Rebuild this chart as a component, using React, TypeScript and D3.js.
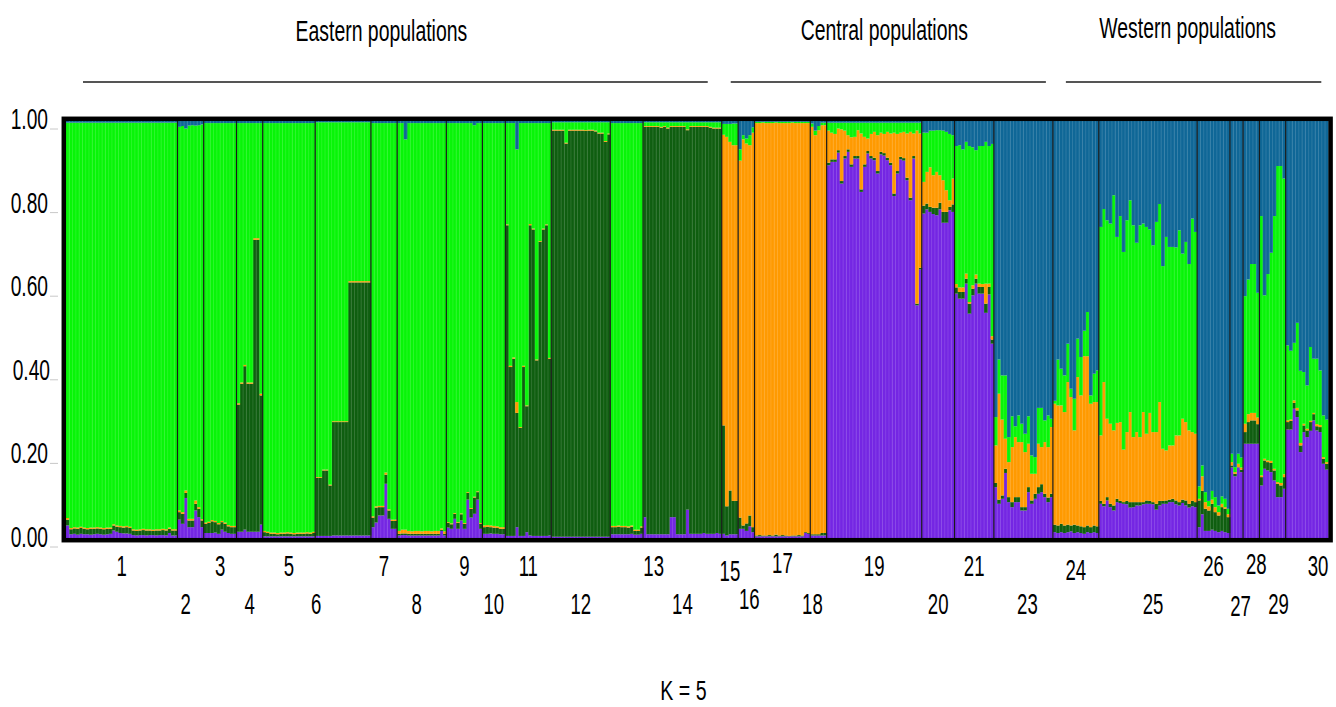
import React from "react";
import * as d3 from "d3";

// Each individual: cumulative upper bounds (%) of the clusters stacked bottom -> top
// [purple, dark green, orange, light green]; blue fills the rest up to 100.
const pop1 = [
  [3.0, 4.4, 4.8, 99.6],
  [0.9, 2.1, 2.4, 99.6], [1.0, 2.3, 2.6, 99.6], [0.8, 2.2, 2.5, 99.6], [1.0, 2.4, 2.7, 99.6],
  [0.9, 2.2, 2.5, 99.6], [0.9, 2.1, 2.4, 99.6], [0.8, 2.2, 2.5, 99.6], [0.9, 2.2, 2.5, 99.6],
  [1.0, 2.3, 2.6, 99.6], [0.9, 2.2, 2.5, 99.6], [0.8, 2.1, 2.4, 99.6], [0.9, 2.2, 2.5, 99.6],
  [1.0, 2.2, 2.5, 99.6],
  [1.8, 3.0, 3.3, 99.6], [1.5, 2.7, 3.0, 99.6], [1.2, 2.6, 2.9, 99.6], [1.1, 2.5, 2.8, 99.6],
  [1.1, 2.6, 2.9, 99.6], [1.0, 2.4, 2.7, 99.6],
  [0.7, 1.8, 2.1, 99.6], [0.6, 1.7, 2.0, 99.6], [0.7, 1.8, 2.1, 99.6], [0.7, 1.9, 2.2, 99.6],
  [0.6, 1.8, 2.1, 99.6], [0.7, 1.8, 2.1, 99.6], [0.7, 1.7, 2.0, 99.6], [0.6, 1.8, 2.1, 99.6],
  [0.7, 1.8, 2.1, 99.6], [0.7, 1.9, 2.2, 99.6], [0.6, 1.8, 2.1, 99.6],
  [1.2, 2.2, 2.5, 99.6], [0.6, 1.8, 2.1, 99.6], [0.6, 1.8, 2.1, 99.6],
];
const pop2 = [
  [4.4, 6.2, 6.6, 98.6], [3.4, 5.8, 6.2, 98.8], [9.6, 10.8, 11.4, 98.2], [2.6, 4.2, 4.6, 98.9],
  [2.6, 4.2, 4.6, 99.0], [6.6, 8.2, 9.0, 98.9], [5.0, 7.0, 7.4, 99.0], [2.6, 4.2, 4.5, 99.2],
];
const pop3 = [
  [1.2, 3.4, 3.7, 99.5], [1.2, 3.6, 3.9, 99.5], [1.2, 4.0, 4.3, 99.5], [1.3, 3.8, 4.1, 99.5],
  [1.0, 3.3, 3.6, 99.5], [2.0, 3.8, 4.1, 99.5], [1.5, 3.4, 3.7, 99.5], [1.2, 2.8, 3.1, 99.5],
  [1.0, 2.6, 2.9, 99.5], [1.0, 2.6, 2.9, 99.5],
];
const pop4 = [
  [1.5, 32.0, 32.3, 99.5], [1.5, 37.0, 37.3, 99.5], [2.0, 41.2, 41.5, 99.5], [1.5, 37.0, 37.3, 99.5],
  [1.5, 37.0, 37.3, 99.5], [1.5, 71.5, 71.9, 99.5], [1.5, 71.5, 71.9, 99.5], [3.2, 34.2, 34.6, 99.5],
];
const pop5 = [
  [0.4, 1.4, 1.7, 99.5], [0.4, 1.2, 1.5, 99.5], [0.4, 1.0, 1.3, 99.5], [0.4, 1.0, 1.3, 99.5],
  [0.4, 0.9, 1.2, 99.5], [0.4, 1.0, 1.3, 99.5], [0.4, 1.0, 1.3, 99.5], [0.4, 1.1, 1.4, 99.5],
  [0.4, 1.0, 1.3, 99.5], [0.4, 0.9, 1.2, 99.5], [0.4, 1.0, 1.3, 99.5], [0.4, 1.0, 1.3, 99.5],
  [0.4, 1.0, 1.3, 99.5], [0.4, 1.1, 1.4, 99.5], [0.4, 1.0, 1.3, 99.5], [0.4, 1.2, 1.5, 99.5],
];
const pop6 = [
  [0.5, 14.4, 14.6, 99.7], [0.5, 14.4, 14.6, 99.7], [0.5, 16.2, 16.4, 99.7], [0.5, 16.2, 16.4, 99.7],
  [0.5, 12.6, 12.8, 99.7], [0.6, 27.8, 28.0, 99.7], [0.6, 27.8, 28.0, 99.7], [0.6, 27.8, 28.0, 99.7],
  [0.6, 27.8, 28.0, 99.7], [0.6, 27.8, 28.0, 99.7], [0.6, 61.3, 61.6, 99.7], [0.6, 61.3, 61.6, 99.7],
  [0.6, 61.3, 61.6, 99.7], [0.6, 61.3, 61.6, 99.7], [0.6, 61.3, 61.6, 99.7], [0.6, 61.3, 61.6, 99.7],
  [0.6, 61.3, 61.6, 99.7],
];
const pop7 = [
  [2.6, 4.9, 5.2, 99.5], [3.7, 7.3, 7.6, 99.5], [5.4, 7.4, 7.7, 99.5], [5.4, 7.4, 7.7, 99.5],
  [13.0, 15.2, 15.7, 99.5], [4.6, 6.6, 6.9, 99.5], [2.2, 4.1, 4.4, 99.5], [2.2, 4.1, 4.4, 99.5],
];
const pop8 = [
  [0.6, 1.0, 1.7, 99.5], [0.7, 1.1, 2.0, 99.5], [0.7, 1.1, 2.0, 95.6], [0.6, 1.0, 1.7, 99.5],
  [0.6, 1.0, 1.6, 99.5], [0.6, 1.0, 1.7, 99.5], [0.6, 1.0, 1.7, 99.5], [0.6, 1.0, 1.6, 99.5],
  [0.6, 1.0, 1.7, 99.5], [0.6, 1.0, 1.7, 99.5], [0.6, 1.0, 1.6, 99.5], [0.6, 1.0, 1.7, 99.5],
  [0.6, 1.0, 1.7, 99.5], [1.7, 2.0, 2.3, 99.5], [0.6, 1.0, 1.6, 99.5],
];
const pop9 = [
  [2.5, 3.6, 3.8, 99.5], [2.2, 3.3, 3.5, 99.5], [4.6, 5.8, 6.0, 99.5], [2.2, 3.6, 3.8, 99.5],
  [4.2, 5.7, 5.9, 99.5], [2.2, 3.4, 3.6, 99.5], [9.2, 10.8, 11.0, 99.5], [4.9, 7.0, 7.2, 99.5],
  [5.8, 9.7, 9.9, 99.0], [9.2, 11.0, 11.2, 99.5], [2.2, 3.4, 3.6, 99.5],
];
const pop10 = [
  [1.0, 2.6, 3.0, 99.5], [1.0, 2.7, 3.1, 99.5], [1.1, 2.6, 3.0, 99.5], [1.0, 2.5, 2.9, 99.5],
  [1.0, 2.4, 2.8, 99.5], [0.9, 2.2, 2.6, 99.5], [0.9, 2.2, 2.6, 99.5],
];
const pop11 = [
  [0.5, 75.0, 75.2, 99.5], [0.5, 41.0, 41.3, 99.5], [0.5, 43.0, 43.3, 99.5], [2.6, 30.0, 32.6, 93.2],
  [0.5, 26.4, 26.6, 99.5], [0.5, 41.0, 41.3, 99.5], [1.4, 31.6, 31.8, 99.5], [0.6, 75.0, 75.3, 99.5],
  [0.5, 74.0, 74.2, 99.5], [0.5, 42.6, 42.8, 99.5], [0.5, 71.0, 71.2, 99.5], [0.5, 74.0, 74.2, 99.5],
  [0.5, 75.0, 75.2, 99.5], [0.6, 43.0, 43.2, 99.5],
];
const pop12 = [
  [0.3, 97.7, 97.9, 99.7], [0.3, 97.7, 97.9, 99.7], [0.3, 97.7, 97.9, 99.7], [0.3, 97.7, 97.9, 99.7],
  [0.3, 94.6, 94.8, 99.7], [0.3, 97.7, 97.9, 99.7], [0.3, 97.7, 97.9, 99.7], [0.3, 97.7, 97.9, 99.7],
  [0.3, 97.7, 97.9, 99.7], [0.3, 97.7, 97.9, 99.7], [0.3, 97.6, 97.8, 99.7], [0.3, 97.7, 97.9, 99.7],
  [0.3, 97.7, 97.9, 99.7], [0.3, 97.5, 97.7, 99.7], [0.3, 97.0, 97.2, 99.7], [0.3, 97.0, 97.2, 99.7],
  [0.3, 95.0, 95.2, 99.7], [0.3, 96.8, 97.0, 99.7],
];
const pop13 = [
  [0.9, 2.6, 2.9, 99.5], [0.9, 2.6, 2.9, 99.5], [0.9, 2.7, 3.0, 99.5], [0.9, 2.6, 2.9, 99.5],
  [0.9, 2.6, 2.9, 99.5], [0.9, 2.5, 2.8, 99.5], [1.0, 2.7, 3.0, 99.5], [0.8, 1.7, 2.0, 99.5],
  [0.8, 1.7, 2.0, 99.5], [1.0, 2.5, 2.8, 99.5],
];
const pop14 = [
  [5.0, 98.6, 98.8, 99.7], [0.9, 98.6, 98.8, 99.7], [0.9, 98.6, 98.8, 99.7], [0.9, 98.6, 98.8, 99.7],
  [0.9, 98.6, 98.8, 99.7], [0.9, 98.4, 98.6, 99.7], [0.9, 98.6, 98.8, 99.7], [0.9, 98.2, 98.4, 99.7],
  [5.0, 98.6, 98.8, 99.7], [5.0, 98.6, 98.8, 99.7], [0.9, 98.6, 98.8, 99.7], [0.9, 98.6, 98.8, 99.7],
  [0.9, 98.6, 98.8, 99.7], [6.8, 97.8, 98.0, 99.7], [1.0, 98.6, 98.8, 99.7], [1.0, 98.6, 98.8, 99.7],
  [1.0, 98.6, 98.8, 99.7], [1.0, 98.6, 98.8, 99.7], [1.2, 98.6, 98.8, 99.7], [1.0, 98.6, 98.8, 99.7],
  [1.0, 98.4, 98.6, 99.7], [1.0, 98.2, 98.4, 99.7], [1.2, 98.2, 98.4, 99.7], [1.0, 98.2, 98.4, 99.7],
];
const pop15 = [
  [1.0, 27.0, 96.7, 99.3], [0.6, 7.6, 96.2, 99.3], [0.9, 11.4, 95.0, 99.3], [0.9, 8.9, 94.2, 99.4],
  [0.9, 8.9, 94.2, 99.4],
];
const pop16 = [
  [2.2, 4.9, 90.5, 93.2], [2.2, 3.0, 95.6, 96.6], [1.7, 3.5, 94.6, 95.8], [2.8, 5.4, 94.2, 96.6],
  [1.4, 2.6, 97.2, 98.5],
];
const pop17 = [
  [0.4, 0.6, 99.5, 99.8], [0.4, 0.7, 99.5, 99.8], [0.4, 0.6, 99.6, 99.8], [0.4, 0.6, 99.5, 99.8],
  [0.4, 0.7, 99.5, 99.8], [0.4, 0.6, 99.5, 99.8], [0.4, 0.8, 99.6, 99.8], [0.4, 0.6, 99.5, 99.8],
  [0.4, 0.7, 99.5, 99.8], [0.4, 0.6, 99.5, 99.8], [0.4, 0.5, 99.5, 99.8], [0.4, 0.6, 99.6, 99.8],
  [0.4, 0.6, 99.5, 99.8], [0.4, 0.7, 99.5, 99.8], [0.4, 0.6, 99.5, 99.8], [1.2, 1.4, 99.5, 99.8],
  [1.0, 1.2, 99.5, 99.8],
];
const pop18 = [
  [0.6, 0.9, 98.6, 99.4], [0.6, 0.9, 96.6, 97.7], [0.6, 0.9, 97.8, 98.8], [0.6, 1.2, 99.0, 99.6],
  [0.6, 1.2, 99.0, 99.6],
];
const pop19 = [
  [89.4, 90.0, 97.7, 99.6], [90.2, 90.8, 97.2, 99.6], [90.2, 90.8, 96.9, 99.6], [92.4, 93.0, 98.2, 99.6],
  [85.0, 85.6, 98.0, 99.6], [91.0, 91.6, 97.7, 99.6], [92.6, 93.2, 96.6, 99.6], [89.0, 89.6, 96.1, 99.6],
  [91.0, 91.6, 96.2, 99.6], [91.0, 91.6, 97.8, 99.6], [83.0, 83.6, 97.0, 99.6], [89.0, 89.6, 96.2, 99.6],
  [92.2, 92.8, 95.8, 99.6], [91.0, 91.6, 96.9, 99.6], [90.6, 91.2, 97.4, 99.6], [87.4, 88.0, 96.6, 99.6],
  [92.0, 92.6, 97.2, 99.6], [91.7, 92.3, 96.9, 99.6], [90.6, 91.2, 97.4, 99.6], [89.4, 90.0, 97.0, 99.6],
  [82.0, 82.6, 97.2, 99.6], [87.4, 88.0, 96.9, 99.6], [90.8, 91.4, 97.2, 99.6], [90.5, 91.1, 97.4, 99.6],
  [85.8, 86.4, 97.0, 99.6], [81.0, 81.6, 97.4, 99.6], [91.0, 91.6, 97.0, 99.6], [55.8, 56.2, 97.7, 99.6],
  [64.4, 64.8, 97.0, 99.6],
];
const pop20 = [
  [77.8, 79.7, 85.4, 97.2], [78.8, 80.2, 87.8, 97.2], [78.2, 79.4, 88.9, 97.7], [77.7, 79.2, 87.0, 97.7],
  [77.4, 79.2, 87.8, 97.8], [78.8, 80.4, 87.0, 97.8], [75.6, 78.2, 85.8, 97.7], [75.6, 78.2, 83.4, 97.4],
  [78.6, 79.4, 81.0, 96.9], [78.2, 80.0, 86.2, 96.6],
];
const pop21 = [
  [58.6, 60.1, 60.9, 94.0], [57.4, 59.0, 60.1, 94.2], [57.4, 59.0, 60.1, 93.2], [61.0, 62.2, 63.4, 95.0],
  [53.8, 56.2, 56.6, 94.0], [58.2, 59.8, 60.6, 93.7], [61.0, 62.2, 63.2, 93.0], [58.6, 60.2, 61.0, 94.0],
  [58.6, 60.2, 60.9, 94.0], [54.0, 56.2, 61.0, 95.0], [58.4, 60.2, 61.0, 94.0], [46.6, 47.6, 48.4, 94.5],
];
const pop23 = [
  [12.2, 13.2, 22.2, 29.0], [8.2, 9.2, 34.6, 42.8], [9.4, 10.2, 28.4, 39.0], [15.6, 16.6, 23.8, 39.0],
  [8.6, 9.8, 18.2, 24.2], [7.4, 8.6, 21.8, 29.2], [8.6, 9.8, 24.2, 26.8], [8.6, 9.8, 23.0, 29.4],
  [6.6, 7.4, 23.0, 27.4], [6.6, 7.4, 20.6, 25.0], [11.0, 12.2, 22.6, 29.2], [8.2, 9.0, 15.4, 19.8],
  [9.4, 10.6, 15.4, 19.4], [10.6, 12.2, 22.6, 31.2], [11.0, 12.9, 21.8, 31.2], [9.8, 10.6, 23.0, 28.2],
  [8.6, 9.7, 21.8, 29.4], [9.8, 10.6, 26.6, 28.6],
];
const pop24 = [
  [1.4, 3.2, 32.2, 32.9], [1.2, 3.0, 31.8, 42.8], [1.4, 3.4, 31.8, 40.6], [1.2, 3.0, 30.2, 39.0],
  [1.4, 3.2, 37.4, 46.6], [1.6, 3.0, 33.8, 35.8], [1.2, 3.2, 25.8, 33.4], [1.4, 3.0, 38.6, 47.8],
  [1.2, 2.8, 34.2, 43.4], [1.0, 2.6, 43.6, 49.7], [1.4, 3.0, 43.6, 54.2], [1.2, 2.6, 32.2, 34.2],
  [1.4, 3.0, 32.6, 39.4], [1.2, 2.8, 32.6, 40.2],
];
const pop25 = [
  [8.2, 8.9, 24.6, 74.6], [7.6, 8.2, 37.4, 78.9], [9.0, 9.8, 28.6, 76.2], [7.4, 8.2, 27.4, 75.4],
  [6.6, 7.8, 25.8, 82.2], [8.6, 9.4, 27.6, 72.2], [8.4, 8.9, 27.8, 77.2], [8.2, 8.6, 21.2, 68.6],
  [8.1, 8.9, 25.4, 76.2], [7.3, 8.6, 30.2, 81.0], [7.4, 8.6, 24.2, 75.0], [7.8, 8.6, 25.4, 70.8],
  [7.8, 8.6, 24.2, 75.0], [8.1, 8.6, 30.2, 75.4], [8.2, 9.0, 25.0, 74.6], [8.2, 8.9, 30.0, 74.0],
  [8.1, 8.6, 25.4, 70.2], [6.8, 8.2, 25.4, 75.8], [7.8, 8.9, 32.6, 80.1], [8.2, 8.9, 21.4, 65.2],
  [8.2, 9.0, 21.0, 72.2], [8.6, 9.2, 22.2, 69.8], [8.6, 9.4, 22.2, 69.8], [8.1, 9.0, 24.6, 69.7],
  [7.8, 8.6, 24.6, 73.8], [8.4, 9.2, 28.6, 68.2], [7.8, 9.0, 27.8, 71.0], [7.3, 8.2, 25.8, 65.7],
  [7.6, 8.9, 25.4, 76.6], [7.4, 8.6, 25.0, 73.4],
];
const pop26 = [
  [2.6, 9.0, 9.4, 12.4], [5.7, 11.3, 14.8, 17.4], [1.7, 7.0, 8.6, 11.0], [1.7, 6.6, 7.6, 8.9],
  [2.0, 8.2, 9.2, 11.3], [1.7, 6.2, 7.4, 9.8], [1.4, 5.4, 6.2, 7.8], [1.7, 7.4, 8.2, 10.0],
  [1.4, 7.0, 7.4, 9.4], [1.2, 5.0, 5.7, 7.0],
];
const pop27 = [
  [16.9, 17.4, 18.2, 20.2], [14.8, 15.4, 15.8, 17.0], [16.9, 17.0, 17.8, 20.2], [15.8, 16.4, 16.9, 19.3],
];
const pop28 = [
  [22.6, 25.4, 27.4, 58.0], [22.6, 27.8, 29.7, 62.0], [22.6, 28.2, 30.0, 65.7], [22.6, 28.2, 30.0, 65.7],
  [22.6, 27.3, 28.9, 58.8],
];
const pop29 = [
  [12.6, 14.6, 15.0, 77.2], [16.6, 18.6, 19.0, 58.2], [16.2, 18.2, 18.6, 63.3], [15.8, 18.0, 18.5, 68.4],
  [13.8, 16.2, 16.6, 77.2], [9.8, 13.0, 13.4, 89.2], [9.8, 12.6, 13.2, 89.2], [11.8, 14.6, 15.3, 86.2],
];
const pop30 = [
  [26.0, 27.8, 28.2, 46.2], [26.0, 28.1, 28.4, 44.9], [31.0, 32.4, 33.0, 46.8], [29.0, 30.6, 31.2, 51.6],
  [20.6, 22.2, 22.8, 40.1], [25.4, 27.0, 27.4, 39.8], [24.2, 25.8, 26.2, 36.6], [25.7, 27.8, 28.1, 45.8],
  [28.2, 29.7, 30.0, 43.0], [25.8, 26.8, 27.3, 43.0], [25.4, 26.6, 27.1, 40.2], [17.8, 19.0, 19.4, 29.4],
  [16.4, 17.8, 18.2, 28.4],
];

const popLabels = [
  "1", "2", "3", "4", "5", "6", "7", "8", "9", "10", "11", "12", "13", "14", "15",
  "16", "17", "18", "19", "20", "21", "23", "24", "25", "26", "27", "28", "29", "30",
];
const popRows = [
  pop1, pop2, pop3, pop4, pop5, pop6, pop7, pop8, pop9, pop10, pop11, pop12, pop13, pop14, pop15,
  pop16, pop17, pop18, pop19, pop20, pop21, pop23, pop24, pop25, pop26, pop27, pop28, pop29, pop30,
];
// small label shifts (px) where the original label sits off the population centre
const labelNudge: Record<string, [number, number]> = {
  "2": [-5, 0], "6": [-27, 0], "8": [-5, 0], "13": [27, 0], "15": [0, 5], "16": [3, -5],
  "17": [0, -3], "18": [-6, 0], "23": [4, 0], "24": [0, 4], "25": [5, 0], "27": [4, 2],
  "28": [5, -2], "29": [6, 0], "30": [11, 0],
};

const groupNames = ["Eastern populations", "Central populations", "Western populations"];
const groupSpans = [["1", "14"], ["15", "23"], ["24", "30"]];
const groupPad = [[17, 14, -14], [9, 7, -4], [13, 7, -6]]; // left inset, right inset, title shift

const yTicks = [0, 0.2, 0.4, 0.6, 0.8, 1.0];
const clusterKeys = ["purple", "darkGreen", "orange", "green", "blue"];
const clusterColors = ["#7426e3", "#0f5e10", "#ff9a00", "#08f508", "#0f6797"];

const FONT = "'Liberation Sans', Arial, sans-serif";

export default function App() {
  const W = 1336;
  const H = 707;
  const left = 66, right = 1328.3, top = 121, bottom = 538;

  const data: any[] = [];
  popRows.forEach((rows, pi) => {
    rows.forEach((c) => {
      const [a, b, o, g] = c;
      data.push({
        id: data.length, pop: pi,
        purple: a, darkGreen: b - a, orange: o - b, green: g - o, blue: 100 - g,
      });
    });
  });

  const series = d3.stack().keys(clusterKeys)(data);
  const x = d3.scaleBand<number>().domain(data.map((d) => d.id)).range([left, right]).padding(0);
  const y = d3.scaleLinear().domain([0, 100]).range([bottom, top]);
  const tickY = d3.scaleLinear().domain([0, 1]).range([547, 129]);
  const bw = x.bandwidth();

  const extents = popLabels.map((lab, pi) => {
    const ids = data.filter((d) => d.pop === pi).map((d) => d.id);
    return { lab, x0: x(ids[0])!, x1: x(ids[ids.length - 1])! + bw };
  });
  const extOf = (lab: string) => extents.find((e) => e.lab === lab)!;

  const narrow = (px: number, py: number, s = 0.62) => `translate(${px},${py}) scale(${s},1)`;

  return (
    <svg width={W} height={H} style={{ position: "absolute", left: 0, top: 0, background: "#fff" }}>
      {/* group headers */}
      {groupNames.map((name, i) => {
        const x0 = extOf(groupSpans[i][0]).x0 + groupPad[i][0];
        const x1 = extOf(groupSpans[i][1]).x1 - groupPad[i][1];
        const cx = (x0 + x1) / 2 + groupPad[i][2];
        return (
          <g key={name}>
            <text transform={narrow(cx, 41 - i * 1.5, 0.67)} textAnchor="middle"
              fontFamily={FONT} fontSize={29} fill="#000">{name}</text>
            <line x1={x0} x2={x1} y1={82} y2={82} stroke="#555" strokeWidth={2} />
          </g>
        );
      })}

      {/* y axis */}
      {yTicks.map((t) => (
        <g key={t}>
          <line x1={50} x2={58} y1={tickY(t)} y2={tickY(t)} stroke="#c8c8c8" strokeWidth={1} />
          <text transform={narrow(t === 0.4 ? 50 : 48, tickY(t), 0.64)} textAnchor="end" fontFamily={FONT}
            fontSize={30} fill="#000">{d3.format(".2f")(t)}</text>
        </g>
      ))}

      {/* stacked bars */}
      {series.map((s, k) => (
        <g key={s.key} fill={clusterColors[k]}>
          {s.map((d: any, i: number) => {
            const h = y(d[0]) - y(d[1]);
            if (h <= 0) return null;
            return <rect key={i} x={x(data[i].id)!} y={y(d[1])} width={bw + 0.4} height={h} />;
          })}
        </g>
      ))}

      {/* faint individual separators */}
      <g stroke="#ffffff" strokeOpacity={0.18} strokeWidth={0.7}>
        {data.slice(1).map((d) => (
          <line key={d.id} x1={x(d.id)!} x2={x(d.id)!} y1={top} y2={bottom} />
        ))}
      </g>

      {/* population separators */}
      <g stroke="#1a1a1a" strokeWidth={1.2}>
        {extents.slice(1).map((e) => (
          <line key={e.lab} x1={e.x0} x2={e.x0} y1={top} y2={bottom} />
        ))}
      </g>

      {/* frame */}
      <rect x={63.8} y={118.8} width={1266.8} height={421.4} fill="none" stroke="#000" strokeWidth={4.5} />

      {/* population labels */}
      {extents.map((e, i) => {
        const nudge = labelNudge[e.lab] || [0, 0];
        const cx = (e.x0 + e.x1) / 2 + nudge[0];
        const cy = (i % 2 === 0 ? 576 : 614) + nudge[1];
        return (
          <text key={e.lab} transform={narrow(cx, cy)} textAnchor="middle"
            fontFamily={FONT} fontSize={30} fill="#000">{e.lab}</text>
        );
      })}

      <text transform={narrow(683.5, 700, 0.7)} textAnchor="middle" fontFamily={FONT}
        fontSize={28} fill="#000">K = 5</text>
    </svg>
  );
}
